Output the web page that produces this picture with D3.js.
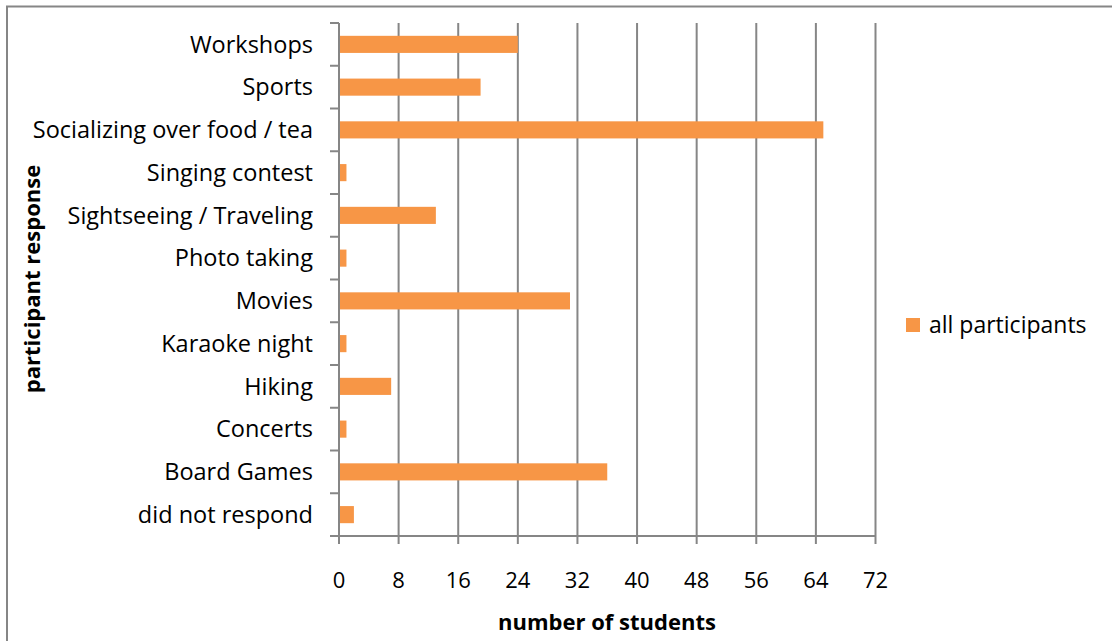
<!DOCTYPE html>
<html><head><meta charset="utf-8">
<script src="https://cdn.jsdelivr.net/npm/d3@7"></script>
<style>body{margin:0;background:#fff}svg{display:block;font-family:"Open Sans",sans-serif}</style>
</head><body><svg id="c" width="1112" height="641"></svg>
<script>
const categories = ["Workshops","Sports","Socializing over food / tea","Singing contest","Sightseeing / Traveling","Photo taking","Movies","Karaoke night","Hiking","Concerts","Board Games","did not respond"];
const values = [24,19,65,1,13,1,31,1,7,1,36,2];
const xTicks = [0,8,16,24,32,40,48,56,64,72];
const seriesName = "all participants";
const xTitle = "number of students";
const yTitle = "participant response";

const FS = 23;
const svg = d3.select("#c");
svg.append("rect").attr("x",7).attr("y",6.5).attr("width",1120).attr("height",700)
  .attr("fill","none").attr("stroke","#868686").attr("stroke-width",2);

const L=339, R=875.5, T=23, B=536;
const x = d3.scaleLinear().domain([0,72]).range([L,R]);
const y = d3.scaleBand().domain(categories).range([T,B]).paddingInner(0.6).paddingOuter(0.3);

svg.append("g").selectAll("line").data(xTicks.slice(1)).join("line")
  .attr("x1",d=>x(d)).attr("x2",d=>x(d)).attr("y1",T).attr("y2",B+8)
  .attr("stroke","#868686").attr("stroke-width",2);

svg.append("g").selectAll("rect").data(categories).join("rect")
  .attr("x",x(0)).attr("y",d=>y(d)).attr("height",y.bandwidth())
  .attr("width",(d,i)=>x(values[i])-x(0)).attr("fill","#F79646");

const band = (B-T)/categories.length;
const yAx = svg.append("g");
yAx.append("line").attr("x1",L).attr("x2",L).attr("y1",T).attr("y2",B+8).attr("stroke","#868686").attr("stroke-width",2);
yAx.selectAll("line.t").data(d3.range(categories.length+1)).join("line").attr("class","t")
  .attr("x1",L-9).attr("x2",L).attr("y1",i=>T+i*band).attr("y2",i=>T+i*band)
  .attr("stroke","#868686").attr("stroke-width",2);
yAx.selectAll("text").data(categories).join("text")
  .attr("x",L-26).attr("y",d=>y(d)+y.bandwidth()/2).attr("dy","0.35em")
  .attr("text-anchor","end").attr("font-size",23.5).attr("fill","#000").text(d=>d);

const xAx = svg.append("g");
xAx.append("line").attr("x1",L-9).attr("x2",R).attr("y1",B).attr("y2",B).attr("stroke","#868686").attr("stroke-width",2);
xAx.selectAll("text").data(xTicks).join("text")
  .attr("x",d=>x(d)).attr("y",580).attr("dy","0.35em").attr("text-anchor","middle")
  .attr("font-size",22).attr("fill","#000").text(d=>d);

svg.append("text").attr("x",607).attr("y",630).attr("text-anchor","middle")
  .attr("font-size",22).attr("font-weight","bold").text(xTitle);
svg.append("text").attr("transform","translate(40,279) rotate(-90)").attr("text-anchor","middle")
  .attr("font-size",22).attr("font-weight","bold").text(yTitle);

svg.append("rect").attr("x",906).attr("y",318).attr("width",14).attr("height",14).attr("fill","#F79646");
svg.append("text").attr("x",929).attr("y",325).attr("dy","0.35em").attr("font-size",FS).text(seriesName);
</script></body></html>
